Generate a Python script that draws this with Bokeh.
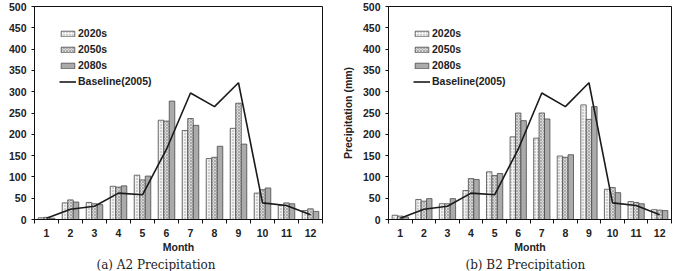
from bokeh.plotting import figure
from bokeh.layouts import row
from bokeh.models import Range1d, FixedTicker, Legend, LegendItem, Title
from bokeh.embed import file_html
from bokeh.resources import INLINE

months = [1, 2, 3, 4, 5, 6, 7, 8, 9, 10, 11, 12]
month_labels = ["1", "2", "3", "4", "5", "6", "7", "8", "9", "10", "11", "12"]

# Observed baseline precipitation (mm), 2005
baseline_2005 = [3, 24, 31, 62, 58, 165, 297, 265, 321, 39, 33, 11]

# A2 scenario projections (mm)
a2_2020s = [4, 39, 40, 78, 104, 233, 209, 143, 214, 62, 33, 21]
a2_2050s = [5, 46, 37, 76, 93, 231, 237, 146, 273, 70, 39, 25]
a2_2080s = [3, 41, 35, 79, 102, 278, 221, 172, 177, 74, 37, 19]

# B2 scenario projections (mm)
b2_2020s = [10, 47, 37, 68, 112, 194, 191, 149, 269, 71, 42, 23]
b2_2050s = [8, 43, 37, 96, 103, 250, 250, 146, 235, 75, 40, 22]
b2_2080s = [6, 49, 49, 94, 108, 232, 236, 152, 265, 63, 37, 21]

series_names = ["2020s", "2050s", "2080s"]
baseline_name = "Baseline(2005)"

SANS = "Liberation Sans"
BAR_W = 0.23
OFFSETS = [-BAR_W, 0.0, BAR_W]
STYLES = [
    dict(fill_color="#f2f2f2", hatch_pattern="dot", hatch_color="#9a9a9a", hatch_scale=3, hatch_weight=0.8),
    dict(fill_color="#dcdcdc", hatch_pattern="diagonal_cross", hatch_color="#8a8a8a", hatch_scale=3, hatch_weight=0.6),
    dict(fill_color="#ababab"),
]


def panel(series, caption, cap_offset, width, left, right, ylabel):
    p = figure(width=width, height=271, output_backend="svg", toolbar_location=None,
               x_range=Range1d(0.5, 12.5), y_range=Range1d(0, 500),
               min_border_left=left, min_border_right=right,
               min_border_top=6, min_border_bottom=0)
    p.xgrid.visible = False
    p.ygrid.visible = False
    p.outline_line_color = "#111111"
    p.outline_line_width = 1
    p.background_fill_color = "white"
    p.border_fill_color = "white"

    items = []
    for vals, off, st, name in zip(series, OFFSETS, STYLES, series_names):
        r = p.vbar(x=[m + off for m in months], top=vals, width=BAR_W, bottom=0,
                   line_color="#4a4a4a", line_width=0.8, **st)
        items.append(LegendItem(label=name, renderers=[r]))
    ln = p.line(months, baseline_2005, line_color="#1a1a1a", line_width=1.6)
    items.append(LegendItem(label=baseline_name, renderers=[ln]))

    leg = Legend(items=items, location=(25, 132), padding=0, margin=0, spacing=4,
                 glyph_width=17, glyph_height=7, label_height=11,
                 label_text_font=SANS, label_text_font_style="bold",
                 label_text_font_size="10.5px", label_text_color="#222222",
                 label_standoff=2, border_line_alpha=0, background_fill_alpha=0)
    p.add_layout(leg)

    xa = p.xaxis[0]
    xa.ticker = FixedTicker(ticks=months, minor_ticks=[m - 0.5 for m in months] + [12.5])
    xa.major_label_overrides = {m: s for m, s in zip(months, month_labels)}
    xa.major_tick_out = 0
    xa.major_tick_in = 0
    xa.minor_tick_out = 4
    xa.minor_tick_in = 0
    xa.major_label_standoff = 5
    xa.axis_label = "Month"
    xa.axis_label_standoff = 1
    for ax in (p.xaxis[0], p.yaxis[0]):
        ax.axis_line_color = "#111111"
        ax.major_tick_line_color = "#111111"
        ax.minor_tick_line_color = "#111111"
        ax.major_label_text_font = SANS
        ax.major_label_text_font_style = "bold"
        ax.major_label_text_font_size = "10.5px"
        ax.major_label_text_color = "#222222"
        ax.axis_label_text_font = SANS
        ax.axis_label_text_font_style = "bold"
        ax.axis_label_text_font_size = "10.5px"
        ax.axis_label_text_color = "#222222"

    ya = p.yaxis[0]
    ya.ticker = FixedTicker(ticks=list(range(0, 501, 50)))
    ya.major_tick_out = 3
    ya.major_tick_in = 0
    ya.minor_tick_out = 0
    ya.minor_tick_in = 0
    ya.major_label_standoff = 5
    if ylabel:
        ya.axis_label = ylabel
        ya.axis_label_standoff = 6

    # figure caption underneath the axis
    p.add_layout(Title(text=caption, align="left", text_font="DejaVu Serif",
                       text_font_style="normal", text_font_size="12px",
                       text_color="#222222", standoff=0, offset=cap_offset), "below")
    return p


p1 = panel([a2_2020s, a2_2050s, a2_2080s], "(a)  A2   Precipitation", 62, 338, 34, 16, None)
p2 = panel([b2_2020s, b2_2050s, b2_2080s], "(b)  B2   Precipitation", 77, 338, 47, 5,
           "Precipitation (mm)")

layout = row(p1, p2, spacing=0)
open("out.html", "w").write(file_html(layout, INLINE))
